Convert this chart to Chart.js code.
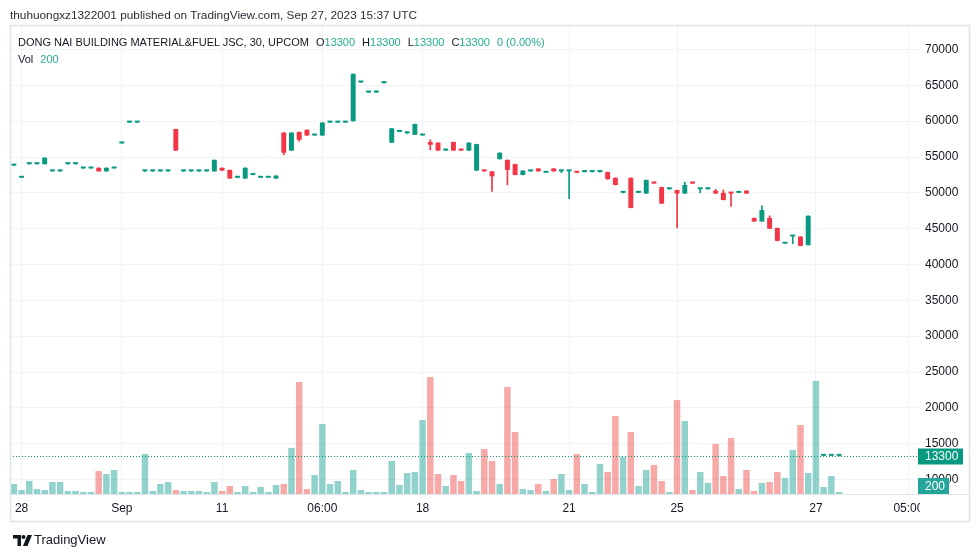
<!DOCTYPE html>
<html>
<head>
<meta charset="utf-8">
<script src="https://cdn.jsdelivr.net/npm/chart.js@4.4.0/dist/chart.umd.min.js"></script>
<style>
  body { margin: 0; width: 980px; height: 557px; overflow: hidden; position: relative; background: #fff;
         font-family: "Liberation Sans", Arial, sans-serif; color: #131722; }
  #chart { position: absolute; left: 0; top: 0; }
  .txt { position: absolute; white-space: nowrap; line-height: 14px; }
  .up { color: #22ab94; }
  .gap { margin-left: 7px; }
</style>
</head>
<body>
<canvas id="chart" width="980" height="557"></canvas>

<div class="txt" style="left:10px; top:8px; font-size:11.8px; color:#2a2e39;">thuhuongxz1322001 published on TradingView.com, Sep 27, 2023 15:37 UTC</div>
<div class="txt" style="left:18px; top:35px; font-size:11px;">DONG NAI BUILDING MATERIAL&amp;FUEL JSC, 30, UPCOM<span class="gap">O<span class="up">13300</span></span><span class="gap">H<span class="up">13300</span></span><span class="gap">L<span class="up">13300</span></span><span class="gap">C<span class="up">13300</span></span><span class="gap up">0 (0.00%)</span></div>
<div class="txt" style="left:18px; top:52px; font-size:11px;">Vol<span class="gap up">200</span></div>

<svg style="position:absolute; left:13px; top:535px;" width="20" height="11" viewBox="0 0 20 11">
  <path d="M0 0h8v11H4.5V3.5H0z" fill="#131722"/>
  <circle cx="10.5" cy="2" r="2" fill="#131722"/>
  <path d="M14.5 0H19L14.5 11H10z" fill="#131722"/>
</svg>
<div class="txt" style="left:34px; top:533px; font-size:13px; color:#131722;">TradingView</div>

<script>
// 30 min bars, Aug 28 .. Sep 27
const tickIdx = [1, 14, 27, 40, 53, 72, 86, 104, 116];
const tickText = ['28', 'Sep', '11', '06:00', '18', '21', '25', '27', '05:00'];
const slotCount = 118; // bars + empty space on the right

const opens = [
  53800, 52100, 54000, 54000, 54000, 53000, 53000, 54000, 54000, 53400,
  53400, 53500, 53000, 53400, 56900, 59800, 59800, 53000, 53000, 53000,
  53000, 58900, 53000, 53000, 53000, 53000, 53000, 53500, 53200, 52100,
  52000, 52500, 52100, 52100, 52000, 58400, 55900, 58500, 58800, 58000,
  58000, 59800, 59800, 59800, 60000, 65400, 64000, 64000, 65300, 57000,
  58500, 58300, 58100, 58000, 57100, 57000, 55900, 57100, 56100, 55900,
  53100, 53200, 53000, 54700, 54600, 54000, 52500, 53000, 53400, 52800,
  53400, 53000, 53000, 53000, 52900, 52900, 52900, 52900, 52100, 50000,
  52100, 50000, 49900, 51500, 50800, 50500, 50400, 49900, 51500, 50500,
  50500, 50300, 50000, 50000, 50000, 50300, 46500, 46000, 46500, 45100,
  42900, 43900, 43900, 42700, null, 13300, 13300, 13300
];
const highs = [
  53800, 52100, 54000, 54000, 54900, 53000, 53000, 54000, 54000, 53400,
  53400, 53500, 53500, 53400, 56900, 59800, 59800, 53000, 53000, 53000,
  53000, 58900, 53000, 53000, 53000, 53000, 54600, 53500, 53200, 52100,
  53500, 52500, 52100, 52100, 52400, 58400, 58400, 58500, 58800, 58000,
  59800, 59800, 59800, 59800, 66600, 65400, 64000, 64000, 65300, 59000,
  58500, 58500, 59600, 58000, 57400, 57000, 56100, 57100, 56100, 57000,
  56800, 53200, 53000, 55600, 54600, 54000, 53100, 53000, 53400, 52800,
  53400, 53000, 53000, 53000, 53000, 52900, 53000, 52900, 52100, 50000,
  52100, 50000, 51800, 51500, 50800, 50500, 50400, 51500, 51500, 50500,
  50500, 50500, 50400, 50000, 50000, 50300, 46500, 48200, 46800, 45100,
  42900, 43900, 43900, 46800, null, 13300, 13300, 13300
];
const lows = [
  53800, 52100, 54000, 54000, 54000, 53000, 53000, 54000, 54000, 53400,
  53400, 53000, 53000, 53400, 56900, 59800, 59800, 53000, 53000, 53000,
  53000, 55900, 53000, 53000, 53000, 53000, 53000, 53100, 52000, 52100,
  52000, 52500, 52100, 52100, 52000, 55300, 55900, 57200, 58000, 58000,
  58000, 59800, 59800, 59800, 60000, 65400, 64000, 64000, 65300, 57000,
  58500, 58300, 58100, 58000, 56000, 55900, 55900, 55900, 55900, 55900,
  53100, 53000, 50200, 54700, 51100, 52500, 52500, 53000, 53000, 52800,
  53000, 52800, 49200, 52800, 52900, 52900, 52900, 51900, 51100, 50000,
  47900, 50000, 49900, 51300, 48500, 50500, 45100, 49900, 51300, 50000,
  50500, 49900, 49000, 48100, 50000, 49900, 46000, 46000, 45000, 43300,
  42900, 42900, 42600, 42700, null, 13300, 13300, 13300
];
const closes = [
  53800, 52100, 54000, 54000, 54900, 53000, 53000, 54000, 54000, 53400,
  53400, 53000, 53500, 53400, 56900, 59800, 59800, 53000, 53000, 53000,
  53000, 55900, 53000, 53000, 53000, 53000, 54600, 53100, 52000, 52100,
  53500, 52500, 52100, 52100, 52400, 55600, 58400, 57400, 58000, 58000,
  59800, 59800, 59800, 59800, 66600, 65400, 64000, 64000, 65300, 59000,
  58500, 58300, 59600, 58000, 56700, 55900, 56100, 55900, 55900, 57000,
  56800, 53000, 52300, 55600, 53200, 52500, 53100, 53000, 53000, 52800,
  53000, 53000, 53000, 52800, 52900, 52900, 52900, 51900, 51100, 50000,
  47900, 50000, 51800, 51300, 48500, 50500, 49900, 51100, 51300, 50500,
  50500, 49900, 49000, 49900, 50000, 49900, 46000, 47600, 45000, 43300,
  42900, 43900, 42600, 46800, null, 13300, 13300, 13300
];
const volumes = [
  1000, 400, 1300, 500, 400, 1200, 1200, 300, 300, 200,
  200, 2300, 2000, 2400, 200, 200, 200, 4000, 300, 1000,
  1200, 400, 300, 300, 300, 200, 1200, 300, 800, 200,
  800, 200, 700, 200, 900, 1000, 4600, 11200, 500, 1900,
  7000, 1000, 1300, 200, 2400, 400, 200, 200, 200, 3300,
  900, 2100, 2200, 7400, 11700, 2000, 800, 1900, 1300, 4100,
  300, 4500, 3300, 1000, 10700, 6200, 500, 400, 1000, 300,
  1500, 2000, 400, 4000, 1000, 200, 3000, 2200, 7800, 3700,
  6200, 800, 2400, 2900, 1300, 200, 9400, 7300, 400, 2200,
  1100, 5000, 1800, 5600, 500, 2400, 300, 1100, 1200, 2200,
  1600, 4400, 6900, 2100, 11300, 700, 1800, 200
];
const priceTicks = [10000, 15000, 20000, 25000, 30000, 35000, 40000, 45000, 50000, 55000, 60000, 65000, 70000];
const lastPrice = 13300;
const lastVolume = 200;

const upColor = '#089981';
const downColor = '#f23645';
const upVol = 'rgba(38, 166, 154, 0.5)';
const downVol = 'rgba(239, 83, 80, 0.5)';
const gridColor = '#f0f3fa';
const textColor = '#131722';

Chart.defaults.font.family = '"Liberation Sans", Arial, sans-serif';
Chart.defaults.font.size = 12;

const labels = [];
for (let i = 0; i < slotCount; i++) {
  const k = tickIdx.indexOf(i);
  labels.push(k >= 0 ? tickText[k] : '');
}
const isUp = i => opens[i] == null || closes[i] >= opens[i];
const candleColors = opens.map((o, i) => isUp(i) ? upColor : downColor);
const volColors = volumes.map((v, i) => isUp(i) ? upVol : downVol);

/**
 * Frame, last price line and the scale labels
 */
const overlay = {
  id: 'overlay',
  beforeDraw(chart) {
    const ctx = chart.ctx;
    ctx.save();
    ctx.fillStyle = '#fff';
    ctx.fillRect(0, 0, chart.width, chart.height);
    ctx.restore();
  },
  afterDraw(chart) {
    const ctx = chart.ctx;
    const a = chart.chartArea;
    const y = Math.round(chart.scales.y.getPixelForValue(lastPrice)) + 0.5;

    ctx.save();
    // dotted last price line
    ctx.strokeStyle = upColor;
    ctx.lineWidth = 1;
    ctx.setLineDash([1, 2]);
    ctx.beginPath();
    ctx.moveTo(a.left, y);
    ctx.lineTo(a.right, y);
    ctx.stroke();
    ctx.setLineDash([]);

    // time label under the price scale is cut off
    ctx.fillStyle = '#fff';
    ctx.fillRect(a.right, a.bottom + 1, 50, 27);

    // frame
    ctx.strokeStyle = '#e0e3eb';
    ctx.lineWidth = 1.5;
    ctx.strokeRect(10.5, 25.5, 959, 496);
    ctx.lineWidth = 1;
    ctx.beginPath();
    ctx.moveTo(10, a.bottom + 0.5);
    ctx.lineTo(970, a.bottom + 0.5);
    ctx.stroke();

    // price label
    ctx.font = '12px "Liberation Sans", Arial, sans-serif';
    ctx.textBaseline = 'middle';
    ctx.fillStyle = upColor;
    ctx.fillRect(a.right - 2, y - 8, 45, 16);
    ctx.fillStyle = '#fff';
    ctx.fillText(String(lastPrice), a.right + 5, y + 0.5);

    // volume label
    const yv = Math.min(chart.scales.yVol.getPixelForValue(lastVolume), a.bottom - 8);
    ctx.fillStyle = '#26a69a';
    ctx.fillRect(a.right - 2, yv - 8, 31, 16);
    ctx.fillStyle = '#fff';
    ctx.fillText(String(lastVolume), a.right + 5, yv + 0.5);
    ctx.restore();
  }
};

new Chart(document.getElementById('chart').getContext('2d'), {
  type: 'bar',
  data: {
    labels: labels,
    datasets: [{
      label: 'Body',
      data: opens.map((o, i) => o == null ? null : [o, closes[i]]),
      yAxisID: 'y',
      backgroundColor: candleColors,
      barPercentage: 0.64,
      categoryPercentage: 1,
      minBarLength: 2,
      grouped: false,
      order: 0
    }, {
      label: 'Wick',
      data: lows.map((l, i) => l == null ? null : [l, highs[i]]),
      yAxisID: 'y',
      backgroundColor: candleColors,
      barThickness: 1,
      grouped: false,
      order: 1
    }, {
      label: 'Volume',
      data: volumes,
      yAxisID: 'yVol',
      backgroundColor: volColors,
      barPercentage: 0.84,
      categoryPercentage: 1,
      grouped: false,
      order: 2
    }]
  },
  options: {
    responsive: false,
    animation: false,
    devicePixelRatio: 1,
    layout: { padding: { left: 10, right: 10, top: 26, bottom: 35 } },
    plugins: {
      legend: { display: false },
      tooltip: { enabled: false }
    },
    scales: {
      x: {
        type: 'category',
        offset: true,
        grid: {
          offset: false,
          drawTicks: false,
          color: ctx => (ctx.tick && ctx.tick.label) ? gridColor : 'transparent'
        },
        border: { display: false },
        ticks: { autoSkip: false, maxRotation: 0, color: textColor, padding: 7 },
        afterFit: scale => { scale.height = 28; }
      },
      y: {
        position: 'right',
        min: 7977,
        max: 73280,
        grid: { color: gridColor, drawTicks: false },
        border: { display: false },
        ticks: { color: textColor, padding: 5, callback: v => String(v) },
        afterBuildTicks: scale => { scale.ticks = priceTicks.map(v => ({ value: v })); },
        afterFit: scale => { scale.width = 50; }
      },
      yVol: {
        display: false,
        min: 0,
        max: 46800
      }
    }
  },
  plugins: [overlay]
});
</script>
</body>
</html>
